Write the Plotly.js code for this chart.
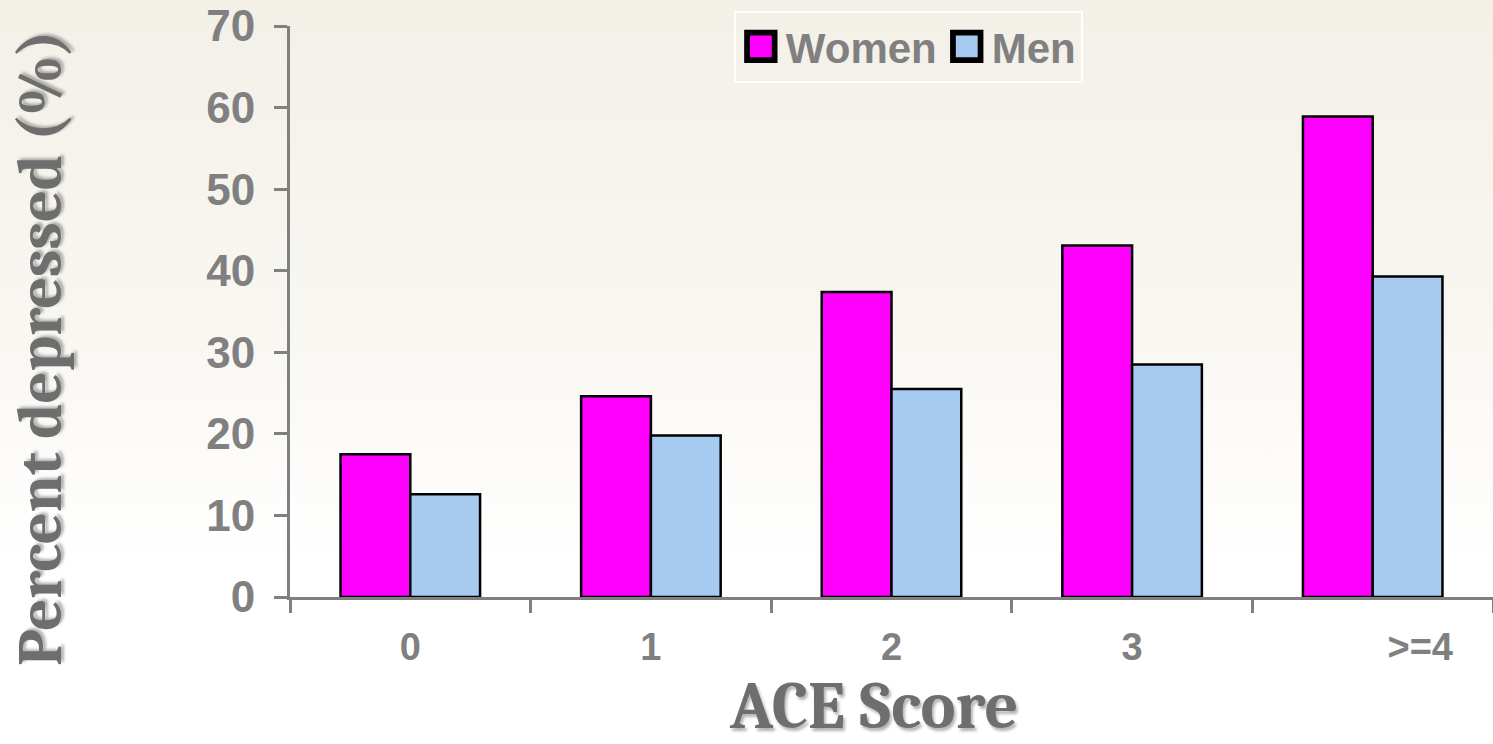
<!DOCTYPE html>
<html>
<head>
<meta charset="utf-8">
<script src="https://cdn.plot.ly/plotly-3.0.1.min.js"></script>
<style>
  html, body { margin: 0; padding: 0; }
  body { width: 1493px; height: 744px; overflow: hidden;
         background: linear-gradient(to bottom, #F3F0E8 0%, #F9F7F2 45%, #FFFFFF 75%, #FFFFFF 100%); }
  #chart { width: 1493px; height: 744px; }
  .legendpoints path { transform: translate(25px, 0px) scale(2.3); }
</style>
</head>
<body>
<div id="chart"></div>
<script>
// ---- data ----
const categories = ['0', '1', '2', '3', '>=4'];
const tickLabels = ['0', '1', '2', '3', '>=4'];
const women = [17.5, 24.6, 37.4, 43.1, 58.9];
const men = [12.6, 19.8, 25.5, 28.5, 39.3];
const seriesNames = ['Women', 'Men'];
const yTicks = [0, 10, 20, 30, 40, 50, 60, 70];
const xTitle = 'ACE Score';
const yTitle = 'Percent depressed (%)';

const gray = '#808080';
const titleGray = '#6E6E6E';
const sans = 'Arial, "Liberation Sans", sans-serif';
const serif = 'Cambria, "Liberation Serif", "DejaVu Serif", serif';
const shadow = '2px 3px 3px rgba(0,0,0,0.3)';

// shift last label to the right as in reference (leading spaces)
const shownTicks = tickLabels.map((t, i) => i === tickLabels.length - 1 ? '\u00a0'.repeat(9) + t : t);

const traces = [
  { type: 'bar', name: seriesNames[0], x: categories, y: women,
    marker: { color: '#FF00FF', line: { color: '#000000', width: 2.5 } } },
  { type: 'bar', name: seriesNames[1], x: categories, y: men,
    marker: { color: '#A7CAF0', line: { color: '#000000', width: 2.5 } } }
];

const layout = {
  width: 1493, height: 744,
  margin: { l: 290, r: 0, t: 26, b: 147 },
  paper_bgcolor: 'rgba(0,0,0,0)',
  plot_bgcolor: 'rgba(0,0,0,0)',
  barmode: 'group',
  bargap: 0.42,
  bargroupgap: 0,
  showlegend: true,
  legend: {
    orientation: 'h', x: 0.514, xanchor: 'center', y: 1.027, yanchor: 'top',
    bgcolor: 'rgba(0,0,0,0)', bordercolor: '#FFFFFF', borderwidth: 2,
    itemwidth: 40,
    font: { family: sans, size: 42, color: gray, weight: 'bold' }
  },
  xaxis: {
    type: 'category',
    tickvals: categories, ticktext: shownTicks,
    tickson: 'boundaries',
    ticks: 'outside', ticklen: 13, tickwidth: 3, tickcolor: gray,
    showline: true, linecolor: gray, linewidth: 3,
    showgrid: false, zeroline: false,
    ticklabelstandoff: 14,
    tickfont: { family: sans, size: 38, color: gray, weight: 'bold' }
  },
  yaxis: {
    range: [0, 70],
    tickvals: yTicks,
    ticks: 'outside', ticklen: 13, tickwidth: 3, tickcolor: gray,
    showline: true, linecolor: gray, linewidth: 3,
    showgrid: false, zeroline: false,
    ticklabelstandoff: 10,
    tickfont: { family: sans, size: 44, color: gray, weight: 'bold' }
  },
  annotations: [
    { text: xTitle, xref: 'paper', yref: 'paper', x: 0.485, y: -0.193,
      xanchor: 'center', yanchor: 'middle', showarrow: false, borderpad: 0,
      font: { family: serif, size: 66, color: titleGray, weight: 'bold', shadow: shadow } },
    { text: yTitle, xref: 'paper', yref: 'paper', x: -0.207, y: 0.436, textangle: -90,
      xanchor: 'center', yanchor: 'middle', showarrow: false,
      font: { family: serif, size: 62, color: titleGray, weight: 'bold', shadow: shadow } }
  ]
};

Plotly.newPlot('chart', traces, layout, { displayModeBar: false, staticPlot: true });
</script>
</body>
</html>
